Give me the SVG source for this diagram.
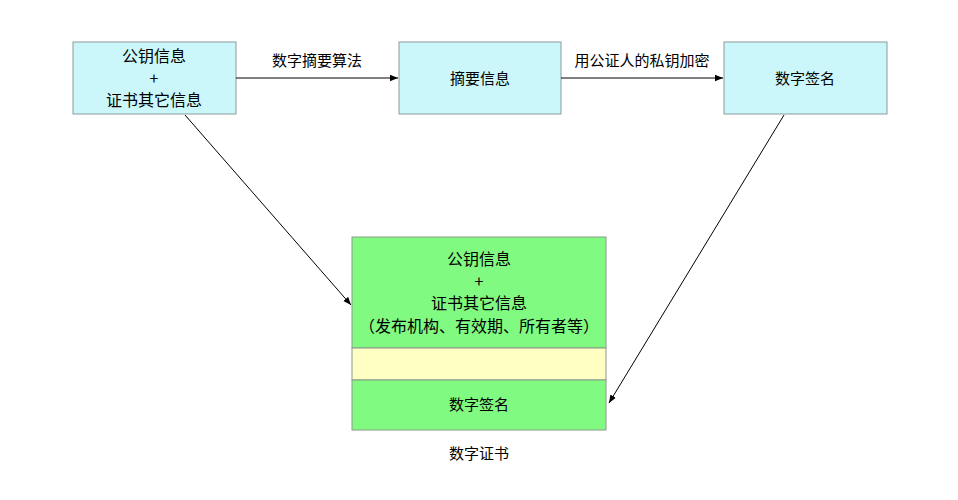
<svg xmlns="http://www.w3.org/2000/svg" width="958" height="500" viewBox="0 0 958 500">
<style>
text{font-family:"Noto Sans CJK SC","Noto Sans",sans-serif;font-size:15px;fill:#000;text-anchor:middle}
.b{font-size:16px}
.top{fill:#ccf7fa;stroke:#8a9a9c;stroke-width:1}
.g{fill:#80fa80;stroke:#8a9a8a;stroke-width:1}
.y{fill:#ffffc4;stroke:#8a9a8a;stroke-width:1}
.c{stroke:#000;stroke-width:1;fill:none;marker-end:url(#a)}
</style>
<defs><marker id="a" viewBox="0 0 10 10" refX="10" refY="5" markerWidth="8" markerHeight="8" orient="auto"><path d="M0,1 L10,5 L0,9 Z" fill="#000"/></marker></defs>
<rect width="958" height="500" fill="#fff"/>
<g id="n1"><rect class="top" x="73" y="42" width="163" height="72"/><text class="b" x="154" y="62">公钥信息</text><text class="b" x="154" y="84">+</text><text class="b" x="154" y="106">证书其它信息</text></g>
<g id="n2"><rect class="top" x="399" y="42" width="162" height="72"/><text x="480" y="84">摘要信息</text></g>
<g id="n3"><rect class="top" x="724" y="42" width="163" height="72"/><text x="805" y="84">数字签名</text></g>
<g id="n4"><rect class="g" x="352" y="237" width="254" height="111"/><text class="b" x="479" y="265">公钥信息</text><text class="b" x="479" y="287">+</text><text class="b" x="479" y="309">证书其它信息</text><text class="b" x="479" y="332">（发布机构、有效期、所有者等）</text>
<rect class="y" x="352" y="348" width="254" height="32"/>
<rect class="g" x="352" y="380" width="254" height="50"/><text x="479" y="410">数字签名</text>
<text x="479" y="459">数字证书</text></g>
<g id="edges">
<line class="c" x1="236" y1="78" x2="398" y2="78"/><text x="317" y="66">数字摘要算法</text>
<line class="c" x1="561" y1="78" x2="723" y2="78"/><text x="642" y="66">用公证人的私钥加密</text>
<line class="c" x1="185" y1="115" x2="351" y2="305"/>
<line class="c" x1="784" y1="115" x2="609" y2="403"/>
</g>
</svg>
